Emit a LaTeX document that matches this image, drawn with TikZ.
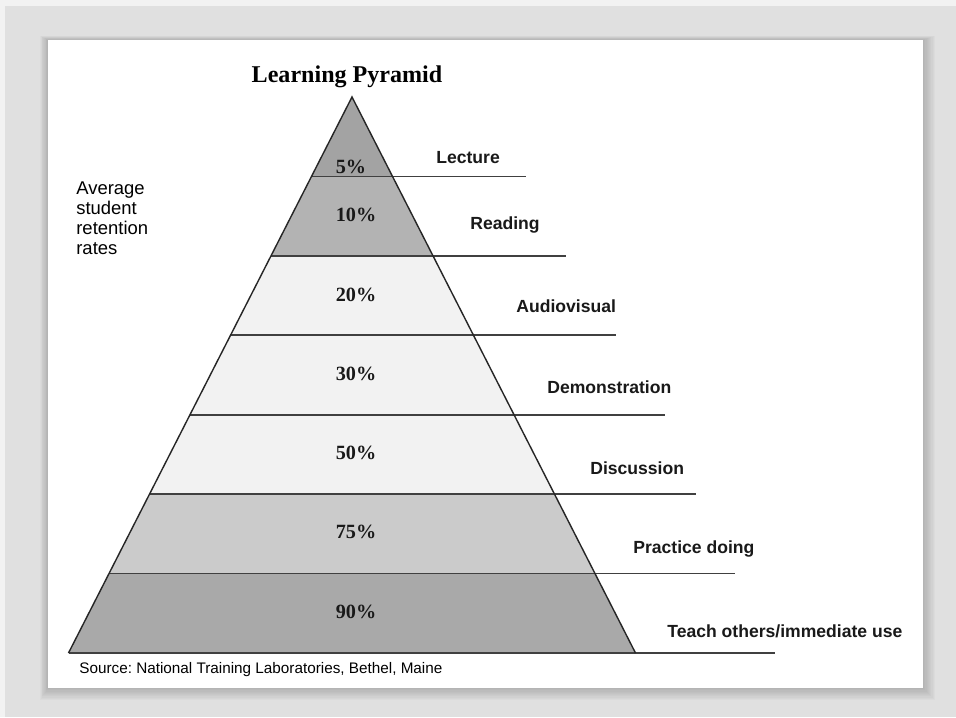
\documentclass[tikz,border=0pt]{standalone}
\usepackage{fontspec}
\setmainfont{Liberation Serif}
\setsansfont{Liberation Sans}
\frenchspacing
\definecolor{frame}{HTML}{F2F2F2}
\definecolor{bggray}{HTML}{E0E0E0}
\definecolor{bandA}{HTML}{A3A3A3}
\definecolor{bandB}{HTML}{B3B3B3}
\definecolor{bandC}{HTML}{F2F2F2}
\definecolor{bandD}{HTML}{CBCBCB}
\definecolor{bandE}{HTML}{A9A9A9}
\tikzset{
	pct/.style={font=\bfseries\fontsize{11.5}{12}\selectfont, text=black!90},
	lbl/.style={anchor=west, inner sep=0pt, font=\sffamily\bfseries\fontsize{10}{11}\selectfont, text=black!90},
	rule/.style={draw=black!75, line width=1pt},
	edge/.style={draw=black!85, line width=0.8pt, line join=miter},
}
\begin{document}
\begin{tikzpicture}[x=0.02cm,y=-0.02cm]
			\fill[frame] (0,0) rectangle (956,717);
			\fill[bggray] (5,6) rectangle (956,717);
			\useasboundingbox (0,0) rectangle (956,717);
			% shadow and card
			\foreach\s in {2,4,...,20}{
				\fill[black,opacity=0.018] ({48-\s*0.4},{40-\s*0.2}) rectangle ({923+\s*0.6},{688+\s*0.6});
			}
			\fill[white] (48,40) rectangle (923,688);
			% pyramid corners, band by band
			\coordinate (apex) at (352,97);
			\foreach\k [evaluate=\k as \y using {97+556*\k/7}] in {1,2,...,7}{
				\coordinate (l\k) at ({352-40.5*\k},\y);
				\coordinate (r\k) at ({352+40.5*\k},\y);
			}
			\fill[bandA] (apex) -- (l1) -- (r1) -- cycle;
			\foreach\k/\c [evaluate=\k as \j using {int(\k-1)}] in {2/bandB,3/bandC,4/bandC,5/bandC,6/bandD,7/bandE}{
				\fill[\c] (l\j) -- (l\k) -- (r\k) -- (r\j) -- cycle;
			}
			% line ends on the right
			\foreach\k/\e [evaluate=\k as \y using {97+556*\k/7}] in {1/526,2/566,3/616,4/665,5/696,6/735,7/775}{
				\coordinate (e\k) at (\e,\y);
				\draw[rule] (l\k) -- (e\k);
			}
			\draw[edge] (l7) -- (apex) -- (r7);
			% percentages
			\foreach\k/\x/\y/\t in {1/351/167/5,2/356/215/10,3/356/295/20,4/356/374/30,5/356/453/50,6/356/532/75,7/356/612/90}{
				\node[pct] (p\k) at (\x,\y){\t\%};
			}
			% labels
			\foreach\k/\x/\y/\t in {1/436/158/Lecture,2/470/225/Reading,3/516/306/Audiovisual,4/547/387/Demonstration,5/590/468/Discussion,6/633/549/Practice doing,7/667/631/{Teach others/immediate use}}{
				\node[lbl] (t\k) at (\x,\y){\t};
			}
			\node[font=\bfseries\fontsize{13.7}{15}\selectfont] (title) at (347,77){Learning Pyramid};
			\node[anchor=west, inner sep=0pt, align=left, font=\sffamily\fontsize{10.5}{11.3}\selectfont] (avg) at (76,218){Average\\student\\retention\\rates};
			\node[anchor=west, inner sep=0pt, font=\sffamily\fontsize{8.7}{10}\selectfont] (src) at (79,670){Source: National Training Laboratories, Bethel, Maine};
		\end{tikzpicture}
\end{document}
